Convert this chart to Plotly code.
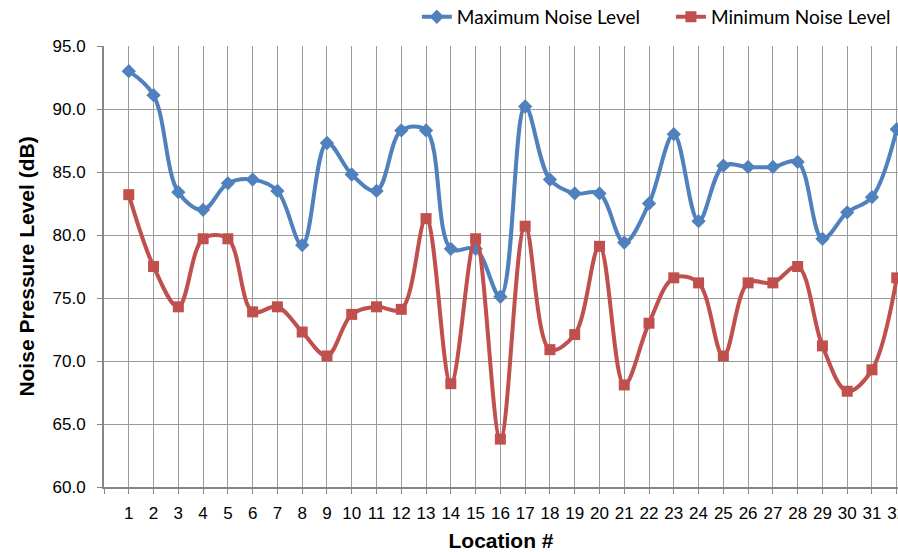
import plotly.graph_objects as go

# Survey locations and measured noise levels (dB)
locations = list(range(1, 33))
max_noise = [93.0, 91.1, 83.4, 82.0, 84.1, 84.4, 83.5, 79.2, 87.3, 84.8,
             83.5, 88.3, 88.3, 78.9, 78.9, 75.1, 90.2, 84.4, 83.3, 83.3,
             79.4, 82.5, 88.0, 81.1, 85.5, 85.4, 85.4, 85.8, 79.7, 81.8,
             83.0, 88.4]
min_noise = [83.2, 77.5, 74.3, 79.7, 79.7, 73.9, 74.3, 72.3, 70.4, 73.7,
             74.3, 74.1, 81.3, 68.2, 79.7, 63.8, 80.7, 70.9, 72.1, 79.1,
             68.1, 73.0, 76.6, 76.2, 70.4, 76.2, 76.2, 77.5, 71.2, 67.6,
             69.3, 76.6]
y_ticks = [60, 65, 70, 75, 80, 85, 90, 95]

BLUE = "#4F81BD"
RED = "#C0504D"
GRID = "#9a9a9a"
AXIS = "#868686"

fig = go.Figure()
fig.add_trace(go.Scatter(
    x=locations, y=max_noise, name="Maximum Noise Level",
    mode="lines+markers",
    line=dict(color=BLUE, width=4, shape="spline", smoothing=1),
    marker=dict(symbol="diamond", size=11, color=BLUE),
    legend="legend", showlegend=True,
))
fig.add_trace(go.Scatter(
    x=locations, y=min_noise, name="Minimum Noise Level",
    mode="lines+markers",
    line=dict(color=RED, width=4, shape="spline", smoothing=1),
    marker=dict(symbol="square", size=11, color=RED),
    legend="legend2", showlegend=True,
))

x_tickvals = [0] + locations
x_ticktext = [""] + [str(v) for v in locations]

legend_font = dict(family="Lato, sans-serif", size=19, color="#000000")
title_font = dict(size=21, family="Liberation Sans, Arial, sans-serif", weight="bold",
                  color="#000000")

fig.update_layout(
    width=898, height=552,
    showlegend=True,
    margin=dict(l=104, r=0, t=46, b=65, autoexpand=False),
    paper_bgcolor="white", plot_bgcolor="white",
    font=dict(family="Liberation Sans, Arial, sans-serif", color="#000000"),
    legend=dict(orientation="h", x=0.394, y=1.066, xanchor="left", yanchor="middle",
                font=legend_font, bgcolor="rgba(0,0,0,0)"),
    legend2=dict(orientation="h", x=0.714, y=1.066, xanchor="left", yanchor="middle",
                 font=legend_font, bgcolor="rgba(0,0,0,0)"),
    xaxis=dict(
        range=[0, 32.05], tickmode="array", tickvals=x_tickvals, ticktext=x_ticktext,
        showgrid=True, gridcolor=GRID, gridwidth=1,
        showline=True, linecolor=AXIS, linewidth=2,
        ticks="outside", ticklen=5, tickcolor=AXIS, tickwidth=1,
        tickfont=dict(size=17), ticklabelstandoff=5, ticklabeloverflow="allow",
        zeroline=False, automargin=False,
        title=dict(text="Location #", font=title_font, standoff=12),
    ),
    yaxis=dict(
        range=[60, 95], tickmode="array", tickvals=y_ticks,
        ticktext=[f"{v:.1f}" for v in y_ticks],
        showgrid=True, gridcolor=GRID, gridwidth=1,
        showline=True, linecolor=AXIS, linewidth=2,
        ticks="outside", ticklen=5, tickcolor=AXIS, tickwidth=1,
        tickfont=dict(size=17), ticklabelstandoff=8,
        zeroline=False, automargin=False,
        title=dict(text="Noise Pressure Level (dB)", font=title_font, standoff=12),
    ),
)

fig.write_html("out.html")
